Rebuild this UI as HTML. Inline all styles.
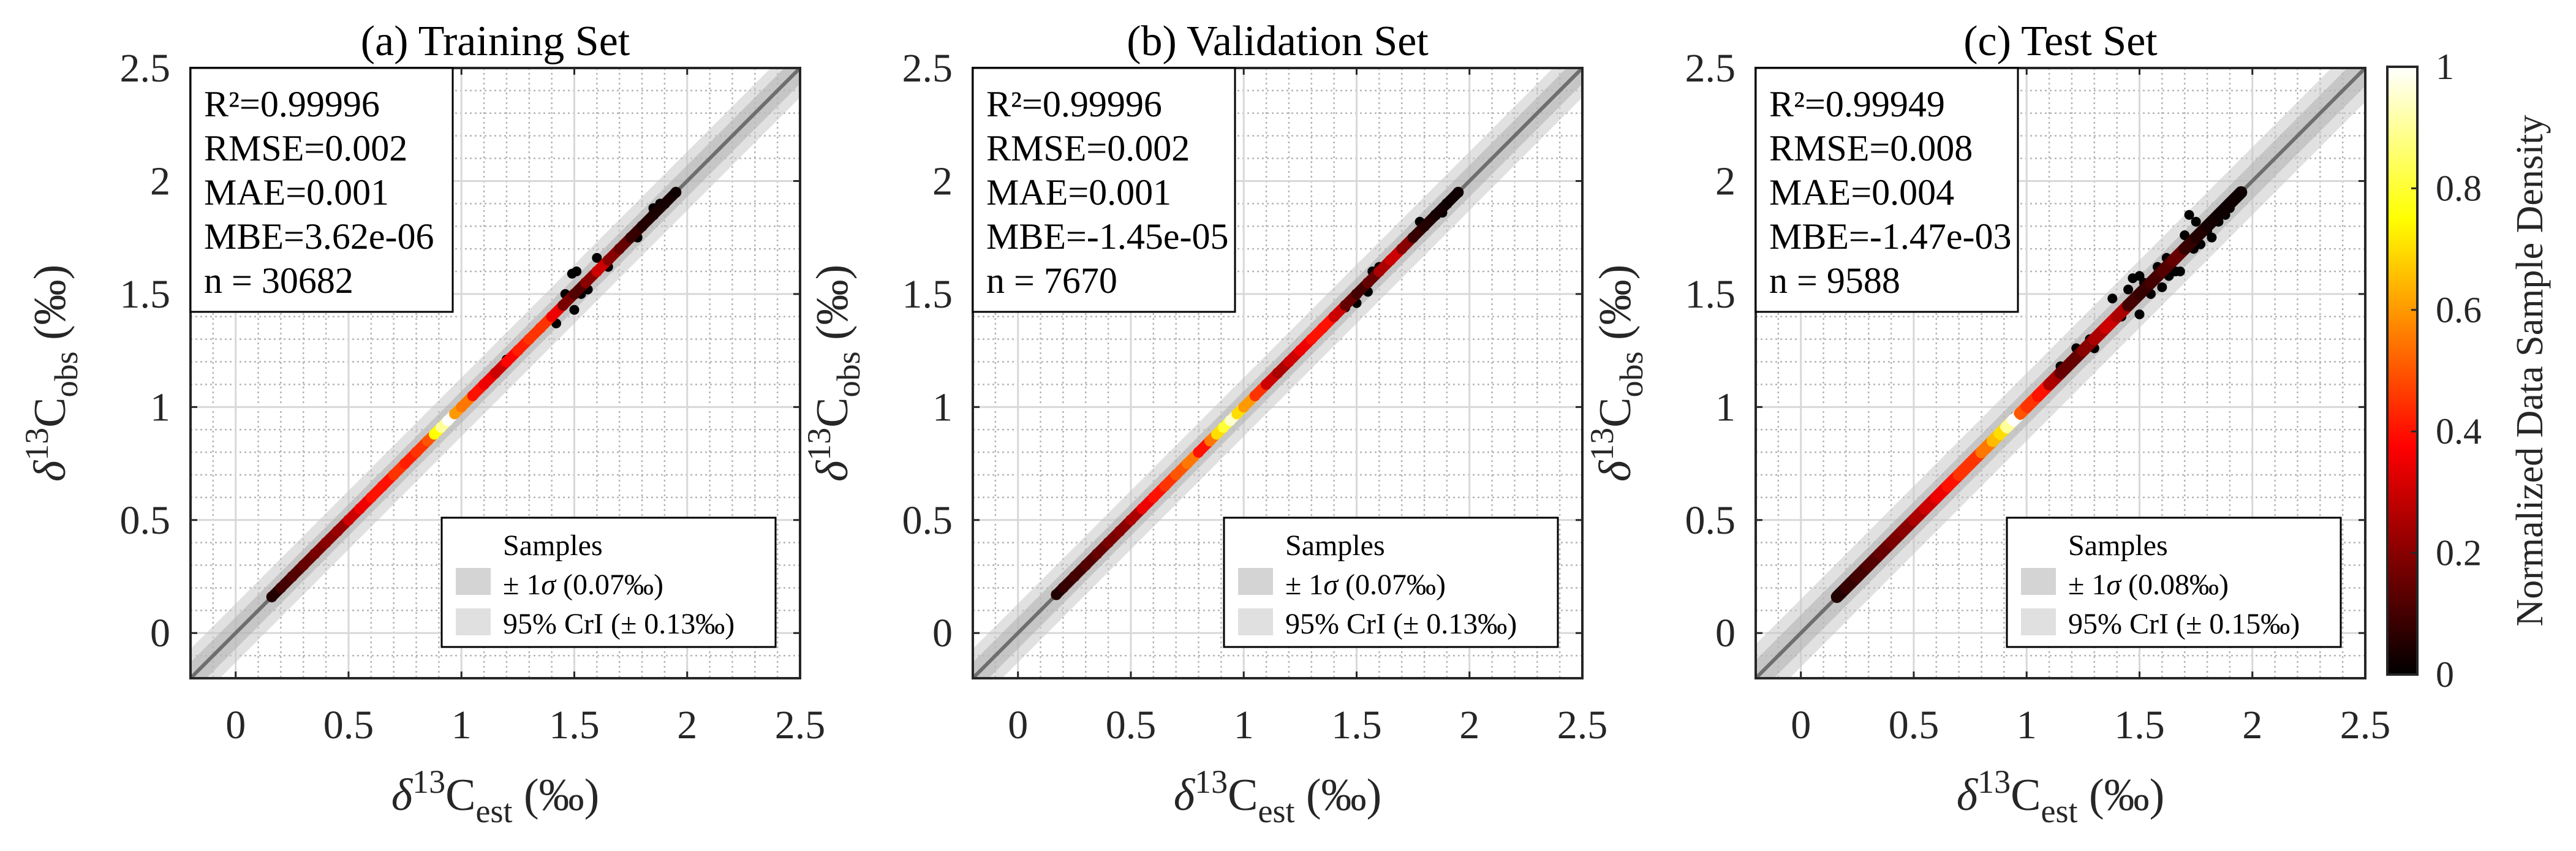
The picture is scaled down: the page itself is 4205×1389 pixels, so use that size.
<!DOCTYPE html>
<html><head><meta charset="utf-8"><style>
html,body{margin:0;padding:0;background:#fff;}
svg{display:block;font-family:"Liberation Serif","DejaVu Serif",serif;}
svg text{font-family:"Liberation Serif","DejaVu Serif",serif;}
</style></head><body>
<svg id="fig" width="4205" height="1389" viewBox="0 0 4205 1389" xmlns="http://www.w3.org/2000/svg" font-family="Liberation Serif, DejaVu Serif, serif">
<defs>
<linearGradient id="hotGrad" x1="0" y1="1" x2="0" y2="0">
<stop offset="0" stop-color="#000"/><stop offset="0.375" stop-color="#f00"/><stop offset="0.75" stop-color="#ff0"/><stop offset="1" stop-color="#fff"/>
</linearGradient>
</defs>
</svg>
<script>
// ---- data ----
const ticks = [0, 0.5, 1, 1.5, 2, 2.5];
const tickLabels = ["0", "0.5", "1", "1.5", "2", "2.5"];
const titles = ["(a) Training Set", "(b) Validation Set", "(c) Test Set"];
const statsA = ["R\u00B2=0.99996", "RMSE=0.002", "MAE=0.001", "MBE=3.62e-06", "n = 30682"];
const statsB = ["R\u00B2=0.99996", "RMSE=0.002", "MAE=0.001", "MBE=-1.45e-05", "n = 7670"];
const statsC = ["R\u00B2=0.99949", "RMSE=0.008", "MAE=0.004", "MBE=-1.47e-03", "n = 9588"];
const sigmaVals = [0.07, 0.07, 0.08];
const criVals = [0.13, 0.13, 0.15];
const estA = [0.16,0.2,0.25,0.3,0.35,0.4,0.45,0.5,0.55,0.6,0.65,0.7,0.75,0.8,0.85,0.88,0.91,0.94,0.97,1.0,1.05,1.1,1.15,1.2,1.25,1.3,1.35,1.4,1.45,1.5,1.55,1.6,1.65,1.7,1.75,1.8,1.85,1.9,1.95];
const denA = [0.05,0.1,0.12,0.15,0.18,0.2,0.22,0.3,0.35,0.4,0.4,0.45,0.42,0.45,0.5,0.75,0.9,1.0,0.6,0.55,0.4,0.35,0.3,0.38,0.42,0.45,0.45,0.35,0.18,0.12,0.2,0.3,0.2,0.15,0.08,0.05,0.04,0.03,0.02];
const outEstA = [1.49,1.51,1.5,1.42,1.2,1.6,1.65,1.78,1.85,1.88,1.53,1.46,1.56];
const outObsA = [1.59,1.60,1.43,1.37,1.21,1.66,1.62,1.75,1.88,1.9,1.50,1.5,1.52];
const estB = [0.17,0.2,0.25,0.3,0.35,0.4,0.45,0.5,0.55,0.6,0.65,0.7,0.75,0.8,0.85,0.88,0.91,0.94,0.97,1.0,1.05,1.1,1.15,1.2,1.25,1.3,1.35,1.4,1.45,1.5,1.55,1.6,1.65,1.7,1.75,1.8,1.85,1.9,1.95];
const denB = [0.05,0.08,0.1,0.12,0.15,0.18,0.2,0.25,0.35,0.4,0.45,0.5,0.55,0.4,0.55,0.7,0.8,0.95,0.7,0.6,0.45,0.3,0.25,0.3,0.35,0.4,0.4,0.3,0.15,0.1,0.15,0.25,0.3,0.2,0.08,0.05,0.03,0.02,0.02];
const outEstB = [0.76,1.5,1.55,1.57,1.45,1.78,1.88,1.9,1.95,1.6];
const outObsB = [0.76,1.46,1.51,1.6,1.44,1.82,1.86,1.9,1.95,1.62];
const estC = [0.16,0.2,0.25,0.3,0.35,0.4,0.45,0.5,0.55,0.6,0.65,0.7,0.75,0.8,0.85,0.88,0.91,0.94,0.97,1.0,1.05,1.1,1.15,1.2,1.25,1.3,1.35,1.4,1.45,1.5,1.55,1.6,1.65,1.7,1.75,1.8,1.85,1.9,1.95];
const denC = [0.05,0.08,0.1,0.12,0.15,0.18,0.2,0.25,0.3,0.35,0.4,0.45,0.45,0.55,0.65,0.7,0.9,1.0,0.5,0.45,0.4,0.25,0.15,0.15,0.2,0.25,0.3,0.25,0.1,0.08,0.1,0.12,0.15,0.08,0.05,0.03,0.02,0.02,0.02];
const outEstC = [1.38,1.47,1.5,1.55,1.6,1.63,1.68,1.72,1.75,1.8,1.82,1.85,1.88,1.9,1.5,1.45,1.3,1.15,0.95,1.58,1.7,1.77,1.42,1.52,1.62,1.66,1.74,1.22,1.28];
const outObsC = [1.48,1.57,1.58,1.5,1.53,1.58,1.6,1.85,1.82,1.78,1.75,1.82,1.85,1.88,1.41,1.52,1.26,1.18,0.96,1.62,1.76,1.72,1.4,1.55,1.66,1.6,1.7,1.26,1.3];
const cbTicks = [0, 0.2, 0.4, 0.6, 0.8, 1];
const cbLabels = ["0", "0.2", "0.4", "0.6", "0.8", "1"];

// ---- layout ----
const NS = "http://www.w3.org/2000/svg";
const svg = document.getElementById('fig');
const panelLefts = [311, 1588, 2866];
const PW = 995, TOP = 111, BOT = 1107;
const VMIN = -0.2, VMAX = 2.5;
const FF = 'Liberation Serif, DejaVu Serif, serif';
function mk(tag, attrs, parent) {
  const e = document.createElementNS(NS, tag);
  for (const k in attrs) e.setAttribute(k, attrs[k]);
  if (tag === 'text') e.setAttribute('font-family', FF);
  (parent || svg).appendChild(e);
  return e;
}
function hot(v) {
  v = Math.max(0, Math.min(1, v));
  let r, g, b;
  if (v < 0.375) { r = v / 0.375; g = 0; b = 0; }
  else if (v < 0.75) { r = 1; g = (v - 0.375) / 0.375; b = 0; }
  else { r = 1; g = 1; b = (v - 0.75) / 0.25; }
  return `rgb(${Math.round(r*255)},${Math.round(g*255)},${Math.round(b*255)})`;
}
const datasets = [
  {stats: statsA, est: estA, den: denA, oe: outEstA, oo: outObsA},
  {stats: statsB, est: estB, den: denB, oe: outEstB, oo: outObsB},
  {stats: statsC, est: estC, den: denC, oe: outEstC, oo: outObsC}
];
datasets.forEach((d, i) => {
  const L = panelLefts[i];
  const xS = v => L + (v - VMIN) / (VMAX - VMIN) * PW;
  const yS = v => BOT - (v - VMIN) / (VMAX - VMIN) * (BOT - TOP);
  const g = mk('g', {});
  
  
  const clipId = 'clip' + i;
  const cp = mk('clipPath', {id: clipId}, g);
  mk('rect', {x: L, y: TOP, width: PW, height: BOT - TOP}, cp);
  const inner = mk('g', {'clip-path': `url(#${clipId})`}, g);
  for (let k = -2; k <= 25; k++) {
    const v = k / 10;
    if (k % 5 === 0) continue;
    const mx = mk('line', {x1: xS(v), x2: xS(v), y1: TOP, y2: BOT, stroke: '#b5b5b5', 'stroke-width': 2.5, 'stroke-dasharray': '3,5'}, inner);
    
    
    const my = mk('line', {x1: L, x2: L + PW, y1: yS(v), y2: yS(v), stroke: '#b5b5b5', 'stroke-width': 2.5, 'stroke-dasharray': '3,5'}, inner);
    
    
  }
  ticks.forEach(v => {
    const gx = mk('line', {x1: xS(v), x2: xS(v), y1: TOP, y2: BOT, stroke: '#d8d8d8', 'stroke-width': 3}, inner);
    
    
    const gy = mk('line', {x1: L, x2: L + PW, y1: yS(v), y2: yS(v), stroke: '#d8d8d8', 'stroke-width': 3}, inner);
    
    
  });
  const band = (w, col, name) => {
    const p = mk('polygon', {points: `${xS(-1)},${yS(-1 + w)} ${xS(4)},${yS(4 + w)} ${xS(4)},${yS(4 - w)} ${xS(-1)},${yS(-1 - w)}`, fill: col, 'fill-opacity': 0.55}, inner);
    
    
  };
  band(criVals[i], '#c8c8c8', 'cri-band');
  band(sigmaVals[i], '#b0b0b0', 'sigma-band');
  const dl = mk('line', {x1: xS(-1), y1: yS(-1), x2: xS(4), y2: yS(4), stroke: '#6e6e6e', 'stroke-width': 6}, inner);
  
  
  d.oe.forEach((v, k) => {
    const c = mk('circle', {cx: xS(v), cy: yS(d.oo[k]), r: 8, fill: '#000'}, inner);
    
    
  });
  for (let k = 0; k < d.est.length - 1; k++) {
    const s = mk('line', {x1: xS(d.est[k]), y1: yS(d.est[k]), x2: xS(d.est[k+1]), y2: yS(d.est[k+1]), stroke: hot(d.den[k]), 'stroke-width': i === 2 ? 20 : 17, 'stroke-linecap': 'round'}, inner);
    
    
  }
  d.est.forEach((v, k) => {
    const c = mk('circle', {cx: xS(v), cy: yS(v), r: 9, fill: hot(d.den[k])}, inner);
    
    
  });
  const fr = mk('rect', {x: L, y: TOP, width: PW, height: BOT - TOP, fill: 'none', stroke: '#262626', 'stroke-width': 4}, g);
  
  
  ticks.forEach((v, k) => {
    mk('line', {x1: xS(v), x2: xS(v), y1: BOT, y2: BOT - 11, stroke: '#262626', 'stroke-width': 3}, g);
    mk('line', {x1: xS(v), x2: xS(v), y1: TOP, y2: TOP + 11, stroke: '#262626', 'stroke-width': 3}, g);
    mk('line', {x1: L, x2: L + 11, y1: yS(v), y2: yS(v), stroke: '#262626', 'stroke-width': 3}, g);
    mk('line', {x1: L + PW, x2: L + PW - 11, y1: yS(v), y2: yS(v), stroke: '#262626', 'stroke-width': 3}, g);
    const tx = mk('text', {x: xS(v), y: 1205, 'font-size': 66, 'text-anchor': 'middle', fill: '#262626'}, g);
    tx.textContent = tickLabels[k];
    
    
    const ty = mk('text', {x: L - 33, y: yS(v) + 22, 'font-size': 66, 'text-anchor': 'end', fill: '#262626'}, g);
    ty.textContent = tickLabels[k];
    
    
  });
  const t = mk('text', {x: L + PW / 2, y: 90, 'font-size': 70, 'text-anchor': 'middle', fill: '#000'}, g);
  t.textContent = titles[i];
  
  
  const xl = mk('text', {x: L + PW / 2, y: 1322, 'font-size': 74, 'text-anchor': 'middle', fill: '#262626'}, g);
  xl.innerHTML = '<tspan font-style="italic">δ</tspan><tspan dy="-28" font-size="54">13</tspan><tspan dy="28">C</tspan><tspan dy="20" font-size="54">est</tspan><tspan dy="-20"> (‰)</tspan>';
  
  
  const yl = mk('text', {x: 0, y: 0, 'font-size': 74, 'text-anchor': 'middle', fill: '#262626', transform: `translate(${L - 205},${(TOP + BOT) / 2}) rotate(-90)`}, g);
  yl.innerHTML = '<tspan font-style="italic">δ</tspan><tspan dy="-28" font-size="54">13</tspan><tspan dy="28">C</tspan><tspan dy="20" font-size="54">obs</tspan><tspan dy="-20"> (‰)</tspan>';
  
  
  const sb = mk('rect', {x: L, y: TOP, width: 428, height: 398, fill: '#fff', stroke: '#000', 'stroke-width': 3}, g);
  
  
  d.stats.forEach((s, k) => {
    const st = mk('text', {x: L + 22, y: 190 + k * 72, 'font-size': 60, fill: '#000'}, g);
    st.textContent = s;
    
    
  });
  const lx = L + 410, ly = 845;
  const lb = mk('rect', {x: lx, y: ly, width: 545, height: 211, fill: '#fff', stroke: '#000', 'stroke-width': 3}, g);
  
  
  const items = [['Samples', null], [`± 1<tspan font-style="italic">σ</tspan> (${sigmaVals[i].toFixed(2)}‰)`, '#d4d4d4'], [`95% CrI (± ${criVals[i].toFixed(2)}‰)`, '#e0e0e0']];
  items.forEach((it, k) => {
    const yy = 906 + k * 64;
    if (it[1]) {
      const sw = mk('rect', {x: lx + 23, y: yy - 43 + (k === 2 ? 2 : 0), width: 57, height: 44, fill: it[1]}, g);
      
      
    }
    const lt = mk('text', {x: lx + 100, y: yy, 'font-size': 48, fill: '#000'}, g);
    lt.innerHTML = it[0];
    
    
  });
});
const CBX = 3897, CBW = 49, CBT = 109, CBB = 1101;
const cb = mk('rect', {x: CBX, y: CBT, width: CBW, height: CBB - CBT, fill: 'url(#hotGrad)', stroke: '#262626', 'stroke-width': 4});


cbTicks.forEach((v, k) => {
  const y = CBB - v * (CBB - CBT);
  if (k > 0 && k < cbTicks.length - 1) mk('line', {x1: CBX + CBW, x2: CBX + CBW - 10, y1: y, y2: y, stroke: '#262626', 'stroke-width': 3});
  const t = mk('text', {x: 3976, y: y + 20, 'font-size': 60, fill: '#262626'});
  t.textContent = cbLabels[k];
  
  
});
const cbt = mk('text', {x: 0, y: 0, 'font-size': 62, 'text-anchor': 'middle', fill: '#262626', transform: `translate(4150,${(CBT + CBB) / 2}) rotate(-90)`});
cbt.textContent = 'Normalized Data Sample Density';


</script>
</body></html>
